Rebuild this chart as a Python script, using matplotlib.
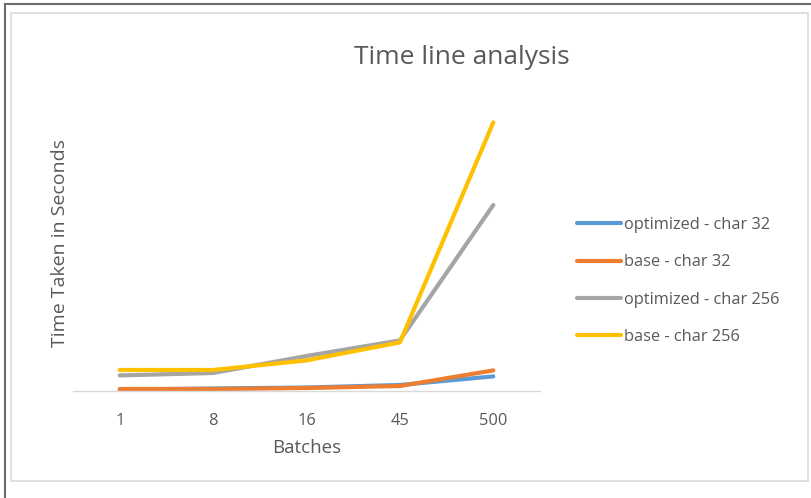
import matplotlib
matplotlib.use("Agg")
import matplotlib.pyplot as plt
from matplotlib.patches import Rectangle
from matplotlib.lines import Line2D

plt.rcParams["font.family"] = ["Open Sans", "DejaVu Sans"]

# values (no y scale shown, units are relative)
batches = ["1", "8", "16", "45", "500"]
opt_32 = [1.5, 2.5, 3.5, 6, 14.6]
base_32 = [2, 2, 3, 5, 20.6]
opt_256 = [15.6, 18, 35, 50.6, 186]
base_256 = [21, 21, 30.6, 48.6, 268.6]

series = [
    ("optimized - char 32", opt_32, "#5b9bd5"),
    ("base - char 32", base_32, "#ed7d31"),
    ("optimized - char 256", opt_256, "#a5a5a5"),
    ("base - char 256", base_256, "#ffc000"),
]

W, H = 811, 498
fig = plt.figure(figsize=(W / 100, H / 100), dpi=100)

# frames (outer dark line, inner light chart border)
fig.add_artist(Line2D([5 / W, 5 / W], [0, 1 - 4 / H], color="#6d6d6d", lw=1.5))
fig.add_artist(Line2D([5 / W, 1], [1 - 4 / H, 1 - 4 / H], color="#6d6d6d", lw=1.5))
fig.add_artist(Rectangle((11 / W, 1 - 481 / H), (808 - 11) / W, (481 - 13) / H,
                         transform=fig.transFigure, fill=False,
                         edgecolor="#d9d9d9", lw=1.2))

left, right, base_y, top_y = 73, 540, 391, 100
ax = fig.add_axes([left / W, 1 - base_y / H, (right - left) / W, (base_y - top_y) / H])

x = list(range(len(batches)))
for name, vals, color in series:
    ax.plot(x, vals, color=color, lw=3, label=name, solid_capstyle="round")

ax.set_xlim(-0.5, len(batches) - 0.5)
ax.set_ylim(0, 291)
ax.set_xticks(x)
ax.set_xticklabels(batches, fontsize=11.8, color="#595959")
ax.tick_params(axis="x", length=0, pad=16)
ax.set_yticks([])
for s in ["top", "right", "left"]:
    ax.spines[s].set_visible(False)
ax.spines["bottom"].set_color("#d9d9d9")
ax.spines["bottom"].set_linewidth(1)

ax.set_xlabel("Batches", fontsize=13.5, color="#595959", labelpad=7)
fig.text(60 / W, 1 - 243 / H, "Time Taken in Seconds", rotation=90,
         ha="center", va="center", fontsize=14, color="#595959")
fig.text(462 / W, 1 - 58 / H, "Time line analysis", ha="center", va="center",
         fontsize=19, color="#595959")

fig.legend(loc="center left", bbox_to_anchor=(562 / W, 1 - 281 / H),
           frameon=False, fontsize=11.8, labelcolor="#595959",
           handlelength=2.7, handletextpad=0.2, labelspacing=1.3)

fig.savefig("out.png", dpi=100)
